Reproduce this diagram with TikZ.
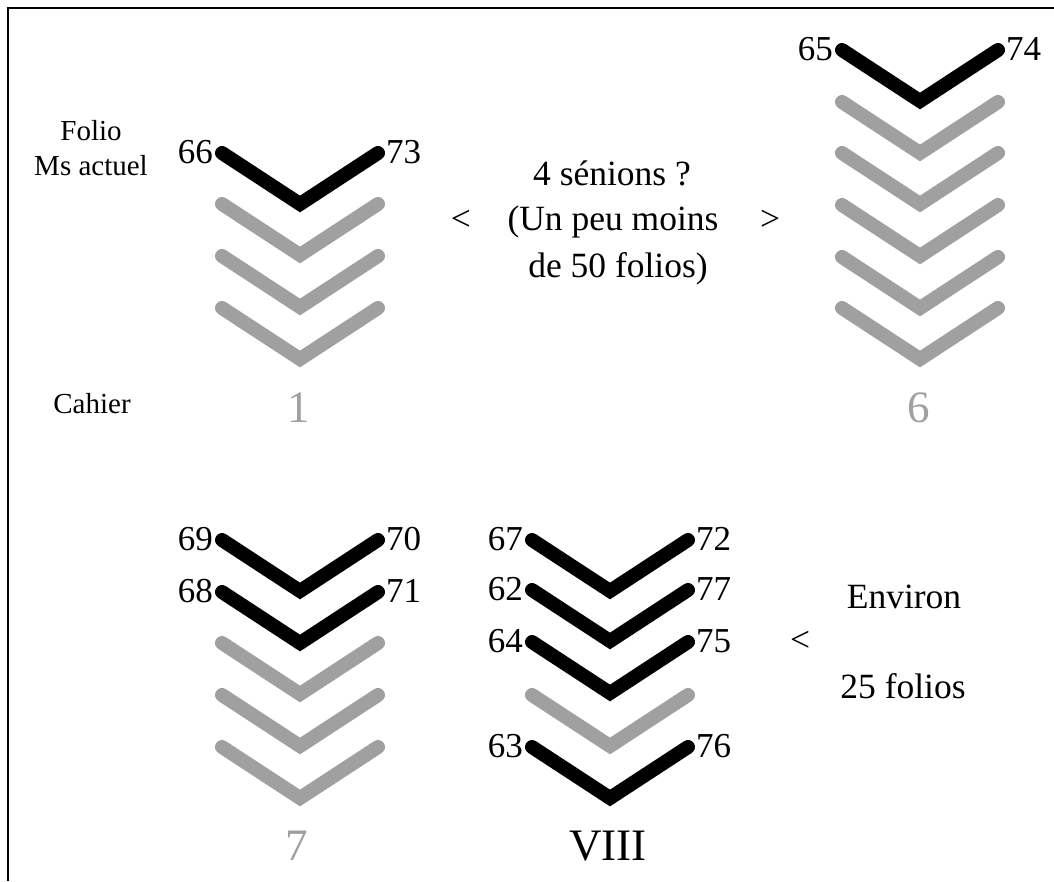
\documentclass[tikz,border=0pt]{standalone}
\usepackage{fontspec}
\setmainfont{Liberation Serif}
\definecolor{folgray}{HTML}{A0A0A0}
\tikzset{
  chevline/.style={line width=14pt, line cap=round, line join=miter},
  blk/.style={chevline, draw=black},
  gry/.style={chevline, draw=folgray},
  pics/chev/.style={code={\draw[#1] (-78,0) -- (0,51) -- (78,0);}},
  num/.style={font=\fontsize{35}{37}\selectfont, inner sep=0pt},
  lbl/.style={font=\fontsize{35.5}{40}\selectfont, inner sep=0pt, align=center},
  side/.style={font=\fontsize{29}{36}\selectfont, inner sep=0pt, align=center},
  cahier/.style={font=\fontsize{45}{50}\selectfont, inner sep=0pt},
  frame/.style={line width=1.5pt, draw=black}
}
\begin{document}
\begin{tikzpicture}[x=1pt,y=-1pt]
\useasboundingbox (0,0) rectangle (1054,881);
\fill[white] (0,0) rectangle (1054,881);
\coordinate (fa) at (8,881);
\coordinate (fb) at (8,8);
\coordinate (fc) at (1054,8);
\draw[frame] (fa) -- (fb) -- (fc);

% Cahier 1
\pic at (300,308) {chev=gry};
\pic at (300,256) {chev=gry};
\pic at (300,204) {chev=gry};
\pic at (300,153) {chev=blk};
\node[num, anchor=east] (n66) at (213,152) {66};
\node[num, anchor=west] (n73) at (386,152) {73};

% Cahier 6
\pic at (920,308) {chev=gry};
\pic at (920,257) {chev=gry};
\pic at (920,205) {chev=gry};
\pic at (920,153) {chev=gry};
\pic at (920,102) {chev=gry};
\pic at (920,50) {chev=blk};
\node[num, anchor=east] (n65) at (833,49) {65};
\node[num, anchor=west] (n74) at (1006,49) {74};

% Cahier 7
\pic at (300,747) {chev=gry};
\pic at (300,695) {chev=gry};
\pic at (300,643) {chev=gry};
\pic at (300,592) {chev=blk};
\pic at (300,540) {chev=blk};
\node[num, anchor=east] (n69) at (213,539) {69};
\node[num, anchor=west] (n70) at (386,539) {70};
\node[num, anchor=east] (n68) at (213,591) {68};
\node[num, anchor=west] (n71) at (386,591) {71};

% Cahier VIII
\pic at (610,747) {chev=blk};
\pic at (610,695) {chev=gry};
\pic at (610,642) {chev=blk};
\pic at (610,590) {chev=blk};
\pic at (610,540) {chev=blk};
\node[num, anchor=east] (n67) at (523,539) {67};
\node[num, anchor=west] (n72) at (696,539) {72};
\node[num, anchor=east] (n62) at (523,589) {62};
\node[num, anchor=west] (n77) at (696,589) {77};
\node[num, anchor=east] (n64) at (523,641) {64};
\node[num, anchor=west] (n75) at (696,641) {75};
\node[num, anchor=east] (n63) at (523,746) {63};
\node[num, anchor=west] (n76) at (696,746) {76};

% Side labels
\node[side, anchor=base] (folio) at (91,140) {Folio};
\node[side, anchor=base] (ms) at (91,175) {Ms actuel};
\node[side, anchor=base] (cah) at (92,413) {Cahier};

% Cahier numbers
\node[cahier, text=folgray, anchor=base] (c1) at (299,422) {1};
\node[cahier, text=folgray, anchor=base] (c6) at (919,422) {6};
\node[cahier, text=folgray, anchor=base] (c7) at (297,860) {7};
\node[cahier, anchor=base] (c8) at (608,860) {VIII};

% Middle text
\node[lbl, anchor=base] (t1) at (612,185) {4 sénions ?};
\node[lbl, anchor=base] (t2) at (613,230) {(Un peu moins};
\node[lbl, anchor=base] (t3) at (618,277) {de 50 folios)};
\node[lbl] (lt1) at (461,220) {<};
\node[lbl] (gt1) at (770,220) {>};

\node[lbl, anchor=base] (env) at (904,608) {Environ};
\node[lbl] (lt2) at (800,641) {<};
\node[lbl, anchor=base] (f25) at (903,698) {25 folios};
\end{tikzpicture}
\end{document}
